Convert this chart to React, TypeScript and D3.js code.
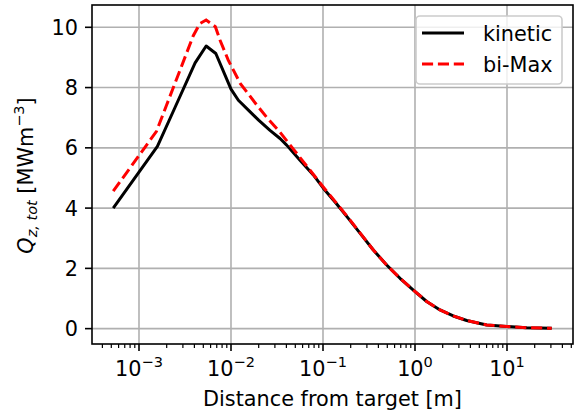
import React from "react";
import * as d3 from "d3";

// log10(distance [m]) and Q values
const kineticLogX = [-3.28, -2.8, -2.61, -2.39, -2.27, -2.165, -2.0, -1.92, -1.8, -1.7, -1.576, -1.467, -1.395, -1.25, -1.105, -0.997, -0.86, -0.725, -0.598, -0.453, -0.308, -0.163, -0.018, 0.127, 0.272, 0.416, 0.562, 0.779, 1.0, 1.214, 1.486];
const kineticQ = [4.0, 6.05, 7.33, 8.82, 9.38, 9.13, 7.95, 7.58, 7.22, 6.92, 6.58, 6.31, 6.09, 5.59, 5.1, 4.66, 4.17, 3.66, 3.17, 2.61, 2.11, 1.67, 1.28, 0.9, 0.62, 0.42, 0.27, 0.12, 0.07, 0.03, 0.01];

const bimaxLogX = [-3.28, -2.81, -2.7, -2.41, -2.34, -2.27, -2.17, -2.12, -2.03, -1.9, -1.72, -1.595, -1.47, -1.32, -1.0, -0.86, -0.725, -0.598, -0.453, -0.308, -0.163, -0.018, 0.127, 0.272, 0.416, 0.562, 0.779, 1.0, 1.214, 1.486];
const bimaxQ = [4.56, 6.55, 7.42, 9.72, 10.12, 10.24, 10.02, 9.58, 8.91, 8.14, 7.42, 6.95, 6.53, 5.95, 4.71, 4.19, 3.68, 3.18, 2.61, 2.11, 1.67, 1.28, 0.9, 0.62, 0.42, 0.27, 0.12, 0.07, 0.03, 0.01];

const xMajorExps = [-3, -2, -1, 0, 1];
const yTicks = [0, 2, 4, 6, 8, 10];
const seriesNames = ["kinetic", "bi-Max"];

const W = 578, H = 415;
const L = 92, R = 573, T = 5, B = 344;
const FONT = "DejaVu Sans, sans-serif";
const FS = 20.8;
const FS_SMALL = 14.5;

export default function App() {
  const x = d3.scaleLog().domain([Math.pow(10, -3 - 47 / 92), Math.pow(10, 1 + 66 / 92)]).range([L, R]);
  const y = d3.scaleLinear().domain([-0.51, 10.74]).range([B, T]);

  const kin = kineticLogX.map((lx, i) => [Math.pow(10, lx), kineticQ[i]] as [number, number]);
  const bim = bimaxLogX.map((lx, i) => [Math.pow(10, lx), bimaxQ[i]] as [number, number]);
  const line = d3.line<[number, number]>().x(d => x(d[0])).y(d => y(d[1]));

  const [d0, d1] = x.domain();
  const minor: number[] = [];
  for (let e = -4; e <= 1; e++) {
    for (let k = 2; k <= 9; k++) {
      const v = k * Math.pow(10, e);
      if (v >= d0 && v <= d1) minor.push(v);
    }
  }

  return (
    <svg width={W} height={H} style={{ position: "absolute", left: 0, top: 0, background: "#fff" }} fontFamily={FONT}>
      <rect x={0} y={0} width={W} height={H} fill="#fff" />
      {/* grid */}
      {xMajorExps.map(e => (
        <line key={"gx" + e} x1={x(Math.pow(10, e))} x2={x(Math.pow(10, e))} y1={T} y2={B} stroke="#b0b0b0" strokeWidth={1.6} />
      ))}
      {yTicks.map(t => (
        <line key={"gy" + t} x1={L} x2={R} y1={y(t)} y2={y(t)} stroke="#b0b0b0" strokeWidth={1.6} />
      ))}
      {/* data */}
      <path d={line(kin) || ""} fill="none" stroke="#000" strokeWidth={3} strokeLinejoin="round" />
      <path d={line(bim) || ""} fill="none" stroke="#ff0000" strokeWidth={3} strokeDasharray="11.1,4.8" />
      {/* spines */}
      <rect x={L} y={T} width={R - L} height={B - T} fill="none" stroke="#000" strokeWidth={1.6} />
      {/* x ticks */}
      {xMajorExps.map(e => {
        const px = x(Math.pow(10, e));
        return (
          <g key={"xt" + e}>
            <line x1={px} x2={px} y1={B} y2={B + 7} stroke="#000" strokeWidth={1.6} />
            <text x={px} y={376} fontSize={FS} textAnchor="middle">
              <tspan>10</tspan>
              <tspan fontSize={FS_SMALL} dy={-9}>{e < 0 ? "\u2212" + Math.abs(e) : String(e)}</tspan>
            </text>
          </g>
        );
      })}
      {minor.map((v, i) => (
        <line key={"mx" + i} x1={x(v)} x2={x(v)} y1={B} y2={B + 4} stroke="#000" strokeWidth={1.2} />
      ))}
      {/* y ticks */}
      {yTicks.map(t => (
        <g key={"yt" + t}>
          <line x1={L - 7} x2={L} y1={y(t)} y2={y(t)} stroke="#000" strokeWidth={1.6} />
          <text x={78} y={y(t) + 7.5} fontSize={FS} textAnchor="end">{t}</text>
        </g>
      ))}
      {/* axis labels */}
      <text x={(L + R) / 2} y={406} fontSize={FS} textAnchor="middle">Distance from target [m]</text>
      <text transform={`translate(33,${(T + B) / 2 + 1}) rotate(-90)`} fontSize={FS} textAnchor="middle">
        <tspan fontStyle="italic">Q</tspan>
        <tspan fontStyle="italic" fontSize={FS_SMALL} dy={4}>z, tot</tspan>
        <tspan dy={-4}> [MWm</tspan>
        <tspan fontSize={FS_SMALL} dy={-9}>{"\u22123"}</tspan>
        <tspan dy={9}>]</tspan>
      </text>
      {/* legend */}
      <rect x={416} y={16} width={146} height={68} rx={4} fill="#fff" fillOpacity={0.8} stroke="#cccccc" strokeWidth={1.6} />
      <line x1={422} x2={464} y1={33} y2={33} stroke="#000" strokeWidth={3} />
      <line x1={422} x2={464} y1={64} y2={64} stroke="#ff0000" strokeWidth={3} strokeDasharray="11.1,4.8" />
      <text x={483} y={40.5} fontSize={FS}>{seriesNames[0]}</text>
      <text x={483} y={71.5} fontSize={FS}>{seriesNames[1]}</text>
    </svg>
  );
}
